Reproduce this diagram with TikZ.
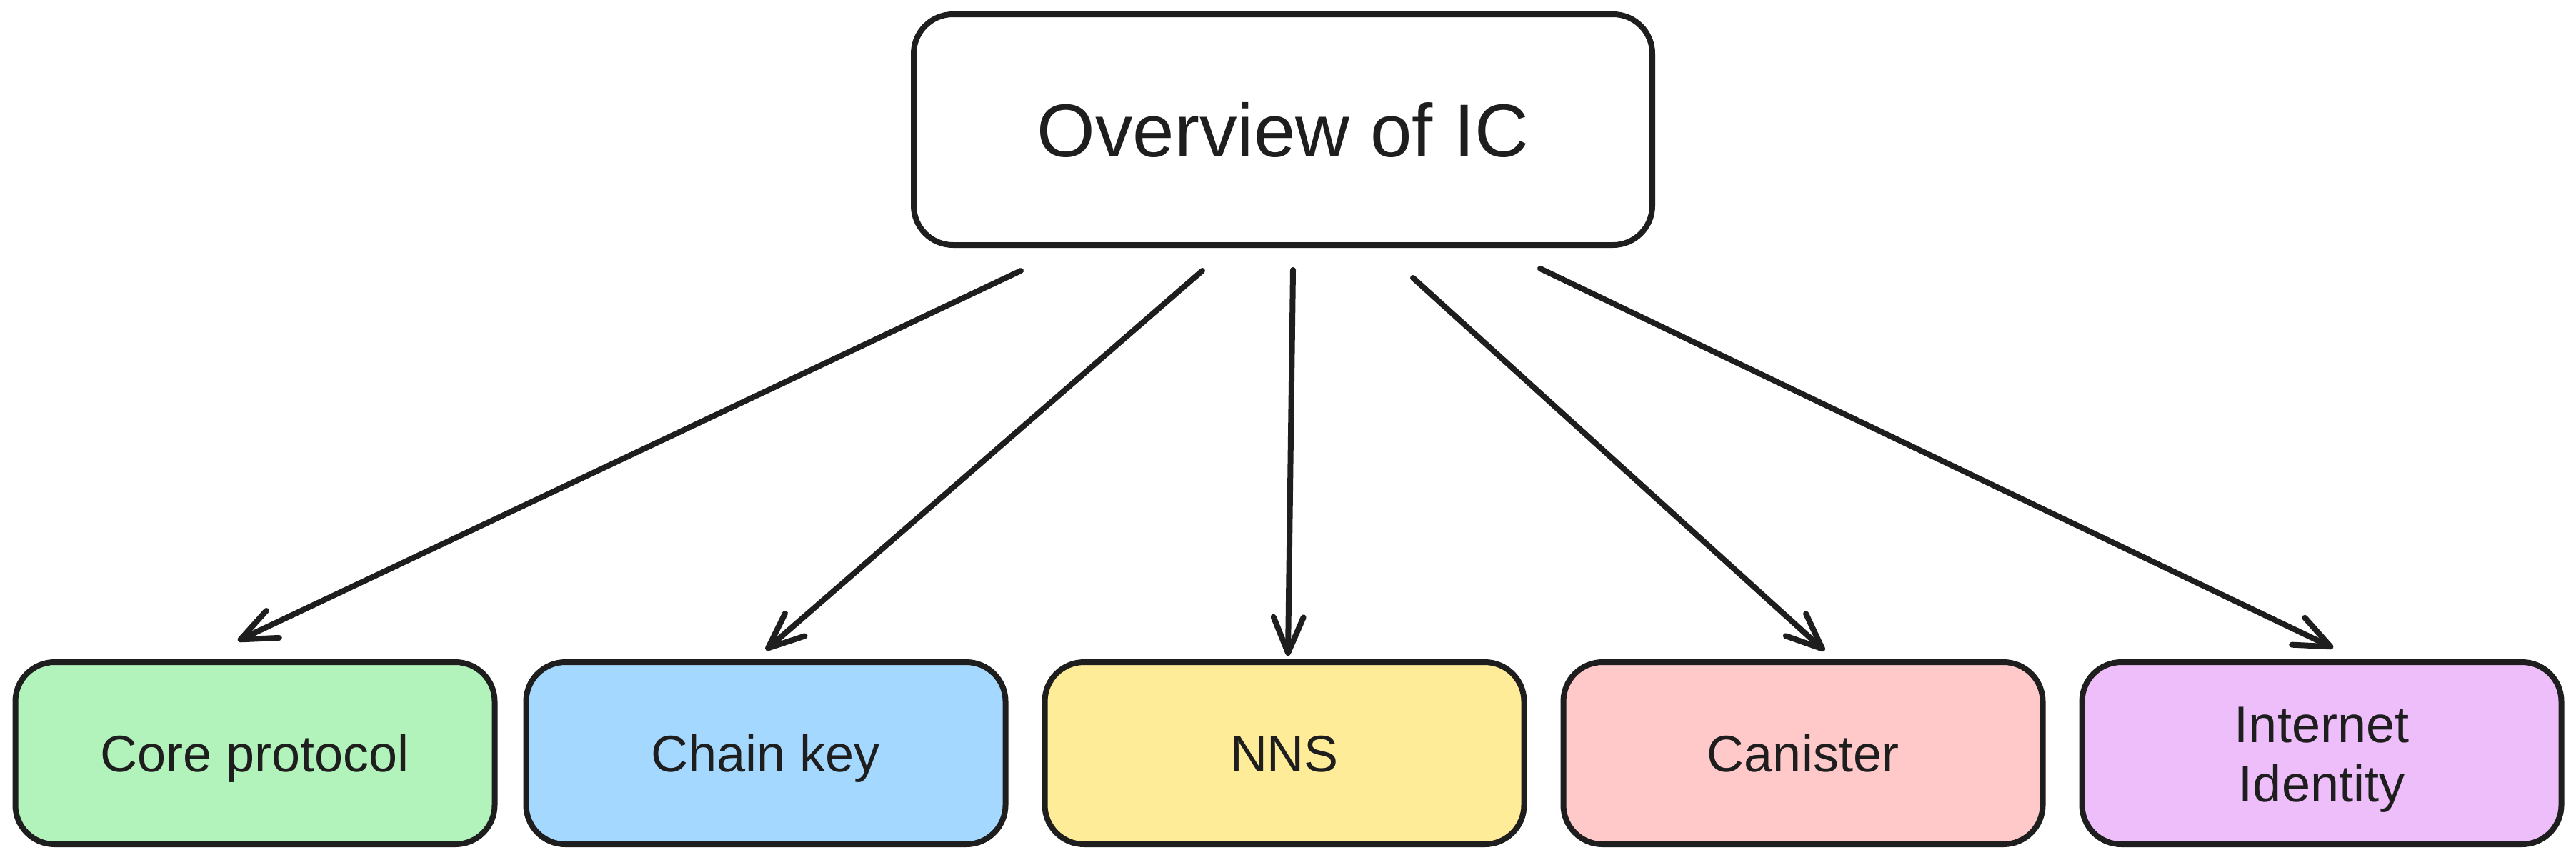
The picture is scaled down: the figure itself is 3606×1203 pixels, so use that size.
\documentclass[tikz,border=0pt]{standalone}
\usepackage{fontspec}
\setmainfont{Liberation Sans}
\usetikzlibrary{arrows.meta}
\definecolor{ink}{HTML}{1E1E1E}
\definecolor{cgreen}{HTML}{B2F2BB}
\definecolor{cblue}{HTML}{A5D8FF}
\definecolor{cyellow}{HTML}{FFEC99}
\definecolor{cpink}{HTML}{FFC9C9}
\definecolor{cpurple}{HTML}{EEBEFA}
\begin{document}
\begin{tikzpicture}[x=1pt,y=-1pt,
  basebox/.style={draw=ink, line width=8pt, rounded corners=55pt, inner sep=0pt, text=ink},
  topbox/.style={basebox, minimum width=1034pt, minimum height=323pt, fill=white,
    font=\fontsize{105}{126}\selectfont, text height=75pt, text depth=0pt},
  subbox/.style={basebox, minimum width=671pt, minimum height=255pt,
    font=\fontsize{72}{83}\selectfont, text height=52pt, text depth=0pt},
  twobox/.style={basebox, minimum width=671pt, minimum height=255pt,
    font=\fontsize{72}{83}\selectfont, align=center, text height=135pt, text depth=0pt},
  arr/.style={draw=ink, line width=8pt, line cap=round,
    -{Straight Barb[length=50pt, width=42pt, line cap=round, line join=round]}}
]
\useasboundingbox (0,0) rectangle (3606,1203);
\fill[white] (0,0) rectangle (3606,1203);

\node[topbox] (top) at (1796,181.5) {Overview of IC};

\node[subbox, fill=cgreen]  (core)   at (357,1054.5)  {Core protocol};
\node[subbox, fill=cblue]   (chain)  at (1072,1054.5) {Chain key};
\node[subbox, fill=cyellow] (nns)    at (1798,1054.5) {NNS};
\node[subbox, fill=cpink]   (can)    at (2524,1054.5) {Canister};
\node[twobox, fill=cpurple] (ii)     at (3250,1054.5) {Internet\\Identity};

\coordinate (s1) at (1429,379);
\coordinate (s2) at (1683,379);
\coordinate (s3) at (1810,378);
\coordinate (s4) at (1978,389);
\coordinate (s5) at (2156,376);
\coordinate (e1) at (333,897);
\coordinate (e2) at (1072,910);
\coordinate (e3) at (1803,918);
\coordinate (e4) at (2554,911);
\coordinate (e5) at (3266,907);

\draw[arr] (s1) -- (e1);
\draw[arr] (s2) -- (e2);
\draw[arr] (s3) -- (e3);
\draw[arr] (s4) -- (e4);
\draw[arr] (s5) -- (e5);
\end{tikzpicture}
\end{document}
